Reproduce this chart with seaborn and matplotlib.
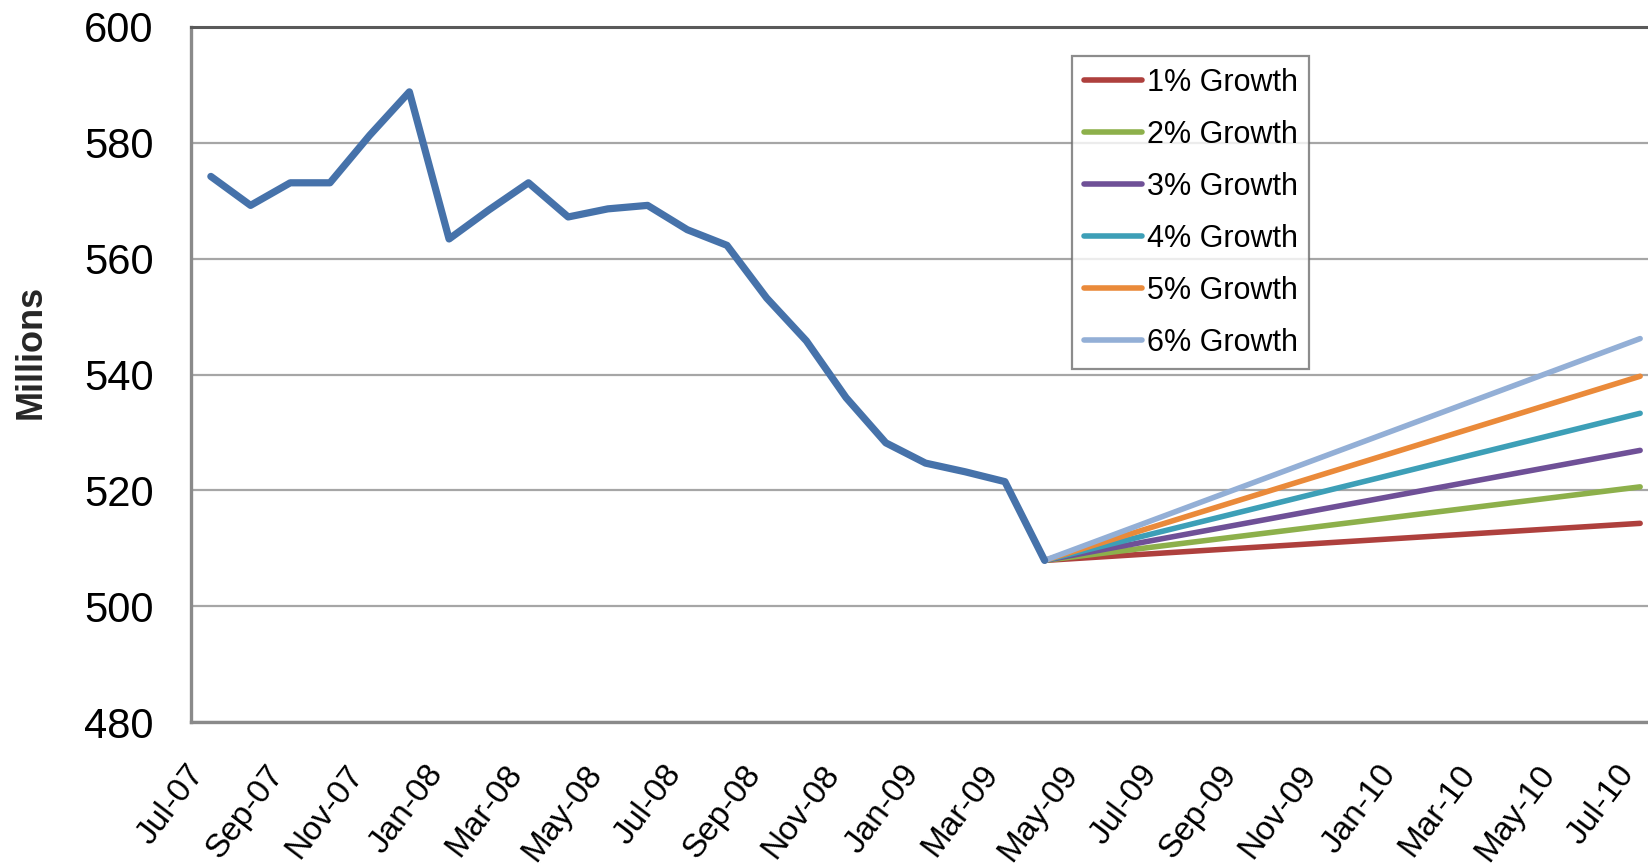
import matplotlib
matplotlib.use("Agg")
import matplotlib.pyplot as plt
import seaborn as sns
import pandas as pd

# Monthly categories on the x axis
months = ["Jul-07", "Aug-07", "Sep-07", "Oct-07", "Nov-07", "Dec-07",
          "Jan-08", "Feb-08", "Mar-08", "Apr-08", "May-08", "Jun-08",
          "Jul-08", "Aug-08", "Sep-08", "Oct-08", "Nov-08", "Dec-08",
          "Jan-09", "Feb-09", "Mar-09", "Apr-09", "May-09", "Jun-09",
          "Jul-09", "Aug-09", "Sep-09", "Oct-09", "Nov-09", "Dec-09",
          "Jan-10", "Feb-10", "Mar-10", "Apr-10", "May-10", "Jun-10",
          "Jul-10"]

# Actual series (millions), Jul-07 .. Apr-09
actual = [574.2, 569.2, 573.1, 573.1, 581.3, 588.8,
          563.4, 568.4, 573.1, 567.2, 568.6, 569.2,
          565.0, 562.3, 553.2, 545.8, 536.0, 528.2,
          524.7, 523.2, 521.5, 507.9]

# Growth scenarios: start month / end month and their values
growth_labels = ["1% Growth", "2% Growth", "3% Growth",
                 "4% Growth", "5% Growth", "6% Growth"]
growth_months = ["Apr-09", "Jul-10"]
growth_start = [507.9, 507.9, 507.9, 507.9, 507.9, 507.9]
growth_end = [514.3, 520.6, 526.9, 533.3, 539.7, 546.2]

yticks = [480, 500, 520, 540, 560, 580, 600]

actual_color = "#4672AA"
growth_colors = ["#AE403D", "#8DB04B", "#6F5097", "#3D9FB7", "#EA8A3A", "#93AFD6"]

sns.set_style("white")
plt.rcParams["font.family"] = ["Liberation Sans", "DejaVu Sans"]
plt.rcParams["text.color"] = "black"
plt.rcParams["xtick.color"] = "black"
plt.rcParams["ytick.color"] = "black"

fig = plt.figure(figsize=(16.48, 8.67), dpi=100)
ax = fig.add_axes([191 / 1648, 145 / 867, 1469 / 1648, 695 / 867])

pos = {m: i for i, m in enumerate(months)}

df_actual = pd.DataFrame({"x": [pos[m] for m in months[:len(actual)]], "y": actual})
sns.lineplot(data=df_actual, x="x", y="y", ax=ax, color=actual_color,
             linewidth=5.2, solid_joinstyle="round", solid_capstyle="round",
             legend=False, zorder=4)

gx = [pos[m] for m in growth_months]
for lab, s, e, c in zip(growth_labels, growth_start, growth_end, growth_colors):
    sns.lineplot(x=gx, y=[s, e], ax=ax, color=c, linewidth=4.0,
                 solid_capstyle="round", label=lab, zorder=3)

ax.set_xlim(-0.5, len(months) - 0.5)
ax.set_ylim(480, 600)
ax.set_yticks(yticks)
ax.set_yticklabels([str(v) for v in yticks], fontsize=30)
ax.set_xticks(range(0, len(months), 2))
ax.set_xticklabels(months[::2], fontsize=24, rotation=53, ha="right", va="top")
ax.tick_params(axis="x", length=0, pad=27)
ax.tick_params(axis="y", length=0, pad=27)

# Horizontal gridlines
ax.grid(axis="y", color="#A6A6A6", linewidth=1.6)
ax.grid(axis="x", visible=False)
ax.set_axisbelow(True)

for side in ["left", "bottom"]:
    ax.spines[side].set_color("#8A8A8A")
    ax.spines[side].set_linewidth(2.4)
ax.spines["top"].set_color("#5A5A5A")
ax.spines["top"].set_linewidth(2.2)
ax.spines["right"].set_visible(False)

ax.set_xlabel("")
ax.set_ylabel("Millions", fontsize=26, fontweight="bold", va="center")
ax.yaxis.set_label_coords((31 - 191) / 1469, (722 - 352) / 695)

leg = ax.legend(loc="upper left", bbox_to_anchor=(0.600, 0.958),
                borderaxespad=0, fontsize=22, frameon=True, fancybox=False,
                handlelength=1.9, handletextpad=0.15, labelspacing=0.72,
                borderpad=0.38, shadow=False)
leg.get_frame().set_edgecolor("#6F6F6F")
leg.get_frame().set_linewidth(1.6)
for h in leg.get_lines():
    h.set_linewidth(4.0)

fig.savefig("out.png", dpi=100)
